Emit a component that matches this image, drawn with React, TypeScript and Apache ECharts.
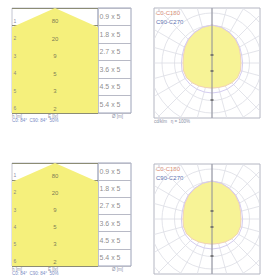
import React, { useEffect, useRef } from 'react';
import * as echarts from 'echarts';

// ---- data ----
const rowDepths = [1, 2, 3, 4, 5, 6];
const rowHeightLabels = ['1', '2', '3', '4', '5', '6'];
const rowLux = ['80', '20', '9', '5', '3', '2'];
const rowSpotSizes = ['0.9 x 5', '1.8 x 5', '2.7 x 5', '3.6 x 5', '4.5 x 5', '5.4 x 5'];
const coneEdge = [[-5.45, -6], [0, 0], [5.45, -6]]; // half-width (m) vs depth (m)
const gammaAngles = [0, 15, 30, 45, 60, 75, 90, 105, 120, 135, 150, 165, 180];
const c0Radii = [200, 203, 212, 224, 235, 236, 232, 236, 250, 265, 280, 295, 304];
const c90Radii = [240, 240, 242, 245, 248, 248, 245, 246, 256, 270, 283, 296, 304];
const gridCircles = [100, 200, 300, 400, 500, 600, 700, 800];
const gridRays = [0, 15, 30, 45, 60, 75, 90, 105, 120, 135, 150, 165];
const axisMarks = [64, -64, -296];

// layout of the two tile rows
const TILES = [
  { coneTop: 8, coneH: 105, polarTop: 8, caption: true },
  { coneTop: 163, coneH: 103, polarTop: 164, caption: false },
];
const FONT = 'Liberation Sans';

function blobPoints(api: any, radii: number[]) {
  const pts: number[][] = [];
  const n = gammaAngles.length;
  for (let i = -(n - 1); i <= n - 1; i++) {
    const k = Math.abs(i);
    const g = (gammaAngles[k] * Math.PI) / 180 * (i < 0 ? -1 : 1);
    const r = radii[k];
    pts.push(api.coord([r * Math.sin(g), -r * Math.cos(g)]));
  }
  return pts;
}

function clipOf(params: any) {
  const cs = params.coordSys;
  return { type: 'rect', shape: { x: cs.x, y: cs.y, width: cs.width, height: cs.height } };
}

function buildOption() {
  const grid: any[] = [];
  const xAxis: any[] = [];
  const yAxis: any[] = [];
  const series: any[] = [];
  const graphic: any[] = [];
  const hidden = { axisLine: { show: false }, axisTick: { show: false }, axisLabel: { show: false }, splitLine: { show: false } };
  const t = (x: number, y: number, text: string, color: string, size = 5) => ({
    type: 'text', left: x, top: y, silent: true,
    style: { text, fill: color, fontSize: size, fontFamily: FONT },
  });

  TILES.forEach((tile) => {
    const ct = tile.coneTop;
    const ch = tile.coneH;
    // cone diagram
    const gc = grid.length;
    grid.push({ left: 12, top: ct, width: 86, height: ch, show: true, borderColor: '#c4c6d2', borderWidth: 1 });
    xAxis.push({ type: 'value', gridIndex: gc, min: -1, max: 1, ...hidden });
    yAxis.push({
      type: 'value', gridIndex: gc, min: -6, max: 0, interval: 1, z: 3,
      axisLine: { show: false }, axisTick: { show: false }, axisLabel: { show: false },
      splitLine: { show: true, lineStyle: { color: '#8c8c74', width: 1 } },
    });
    series.push({
      type: 'line', xAxisIndex: gc, yAxisIndex: gc, data: coneEdge, showSymbol: false, clip: true,
      lineStyle: { width: 0 }, areaStyle: { color: '#f5f07c', opacity: 1, origin: 'start' }, silent: true,
    });
    series.push({
      type: 'scatter', xAxisIndex: gc, yAxisIndex: gc, symbolSize: 1, z: 4,
      itemStyle: { color: 'rgba(0,0,0,0)' },
      data: rowDepths.map((d) => [0, -d]),
      label: { show: true, position: 'top', distance: 1, formatter: (p: any) => rowLux[p.dataIndex], fontSize: 6, color: '#5a5a4a', fontFamily: FONT },
    });
    series.push({
      type: 'scatter', xAxisIndex: gc, yAxisIndex: gc, symbolSize: 1, z: 4,
      itemStyle: { color: 'rgba(0,0,0,0)' },
      data: rowDepths.map((d) => [-1, -d]),
      label: { show: true, position: [2, -7], formatter: (p: any) => rowHeightLabels[p.dataIndex], fontSize: 5, color: '#6a6a8a', fontFamily: FONT },
    });

    // table column
    const gt = grid.length;
    grid.push({ left: 98, top: ct, width: 33, height: ch, show: true, borderColor: '#9ca2b8', borderWidth: 1 });
    xAxis.push({ type: 'value', gridIndex: gt, min: 0, max: 1, ...hidden });
    yAxis.push({
      type: 'value', gridIndex: gt, min: -6, max: 0, interval: 1,
      axisLine: { show: false }, axisTick: { show: false }, axisLabel: { show: false },
      splitLine: { show: true, lineStyle: { color: '#b8bac6', width: 1 } },
    });
    series.push({
      type: 'scatter', xAxisIndex: gt, yAxisIndex: gt, symbolSize: 1,
      itemStyle: { color: 'rgba(0,0,0,0)' },
      data: rowDepths.map((d) => [0, -d + 0.5]),
      label: { show: true, position: 'right', distance: 1, formatter: (p: any) => rowSpotSizes[p.dataIndex], fontSize: 7, color: '#707070', fontFamily: FONT },
    });

    // polar diagram
    const pt = tile.polarTop;
    const gp = grid.length;
    grid.push({ left: 154, top: pt, width: 106, height: 110, show: true, borderColor: '#b4b6c2', borderWidth: 1 });
    xAxis.push({ type: 'value', gridIndex: gp, min: -464, max: 384, ...hidden });
    yAxis.push({ type: 'value', gridIndex: gp, min: -440, max: 440, ...hidden });
    series.push({
      type: 'custom', xAxisIndex: gp, yAxisIndex: gp, clip: true, silent: true,
      data: gridCircles.map((r) => [r, 0]),
      renderItem: (params: any, api: any) => {
        const c = api.coord([0, 0]);
        const r = api.size([api.value(0), api.value(0)])[0];
        return {
          type: 'group', clipPath: clipOf(params),
          children: [{ type: 'circle', shape: { cx: c[0], cy: c[1], r }, style: { fill: 'none', stroke: '#dcdde5', lineWidth: 0.8 } }],
        };
      },
    });
    series.push({
      type: 'custom', xAxisIndex: gp, yAxisIndex: gp, clip: true, silent: true,
      data: gridRays.map((a) => [a, 0]),
      renderItem: (params: any, api: any) => {
        const a = (api.value(0) * Math.PI) / 180;
        const L = 1200;
        const p1 = api.coord([-L * Math.sin(a), -L * Math.cos(a)]);
        const p2 = api.coord([L * Math.sin(a), L * Math.cos(a)]);
        return {
          type: 'group', clipPath: clipOf(params),
          children: [{ type: 'line', shape: { x1: p1[0], y1: p1[1], x2: p2[0], y2: p2[1] }, style: { stroke: '#dcdde5', lineWidth: 0.8 } }],
        };
      },
    });
    series.push({
      type: 'custom', xAxisIndex: gp, yAxisIndex: gp, clip: true, silent: true,
      data: [[0, 0]],
      renderItem: (params: any, api: any) => ({
        type: 'polygon', shape: { points: blobPoints(api, c0Radii) },
        style: { fill: '#f7f396', stroke: '#f1d2b4', lineWidth: 1 },
      }),
    });
    series.push({
      type: 'custom', xAxisIndex: gp, yAxisIndex: gp, clip: true, silent: true,
      data: [[0, 0]],
      renderItem: (params: any, api: any) => ({
        type: 'polygon', shape: { points: blobPoints(api, c90Radii) },
        style: { fill: 'none', stroke: '#d4cdf0', lineWidth: 1 },
      }),
    });
    series.push({
      type: 'custom', xAxisIndex: gp, yAxisIndex: gp, clip: true, silent: true,
      data: [[0, 0]],
      renderItem: (params: any, api: any) => {
        const p1 = api.coord([0, -440]);
        const p2 = api.coord([0, 440]);
        return { type: 'line', shape: { x1: p1[0], y1: p1[1], x2: p2[0], y2: p2[1] }, style: { stroke: '#8a8c98', lineWidth: 1 } };
      },
    });
    series.push({
      type: 'scatter', xAxisIndex: gp, yAxisIndex: gp, symbol: 'rect', symbolSize: [3, 2], z: 5,
      itemStyle: { color: '#666666' },
      data: axisMarks.map((v) => [0, v]),
    });

    // texts
    const cb = ct + ch;
    graphic.push(t(12, cb + 1, 'h [m]', '#8a90a6', 4.5));
    graphic.push(t(48, cb + 1, 'E [lx]', '#8a90a6', 4.5));
    graphic.push(t(112, cb + 1, 'Ø [m]', '#8a90a6', 4.5));
    graphic.push(t(12, cb + 5, 'C0: 84°  C90: 84°  50%', '#7a8cc4', 4.5));
    graphic.push(t(156, pt + 2, 'C0-C180', '#d98a6e', 6));
    graphic.push(t(156, pt + 11, 'C90-C270', '#5a6fb0', 6));
    if (tile.caption) graphic.push(t(154, pt + 111, 'cd/klm   η = 100%', '#8a90a6', 4.5));
  });

  return { animation: false, backgroundColor: '#ffffff', grid, xAxis, yAxis, series, graphic };
}

export default function App() {
  const ref = useRef<HTMLDivElement>(null);
  useEffect(() => {
    if (!ref.current) return;
    const chart = echarts.init(ref.current, undefined, { renderer: 'svg' });
    chart.setOption(buildOption() as any);
    return () => chart.dispose();
  }, []);
  return <div ref={ref} style={{ position: 'fixed', left: 0, top: 0, width: 265, height: 276 }} />;
}
